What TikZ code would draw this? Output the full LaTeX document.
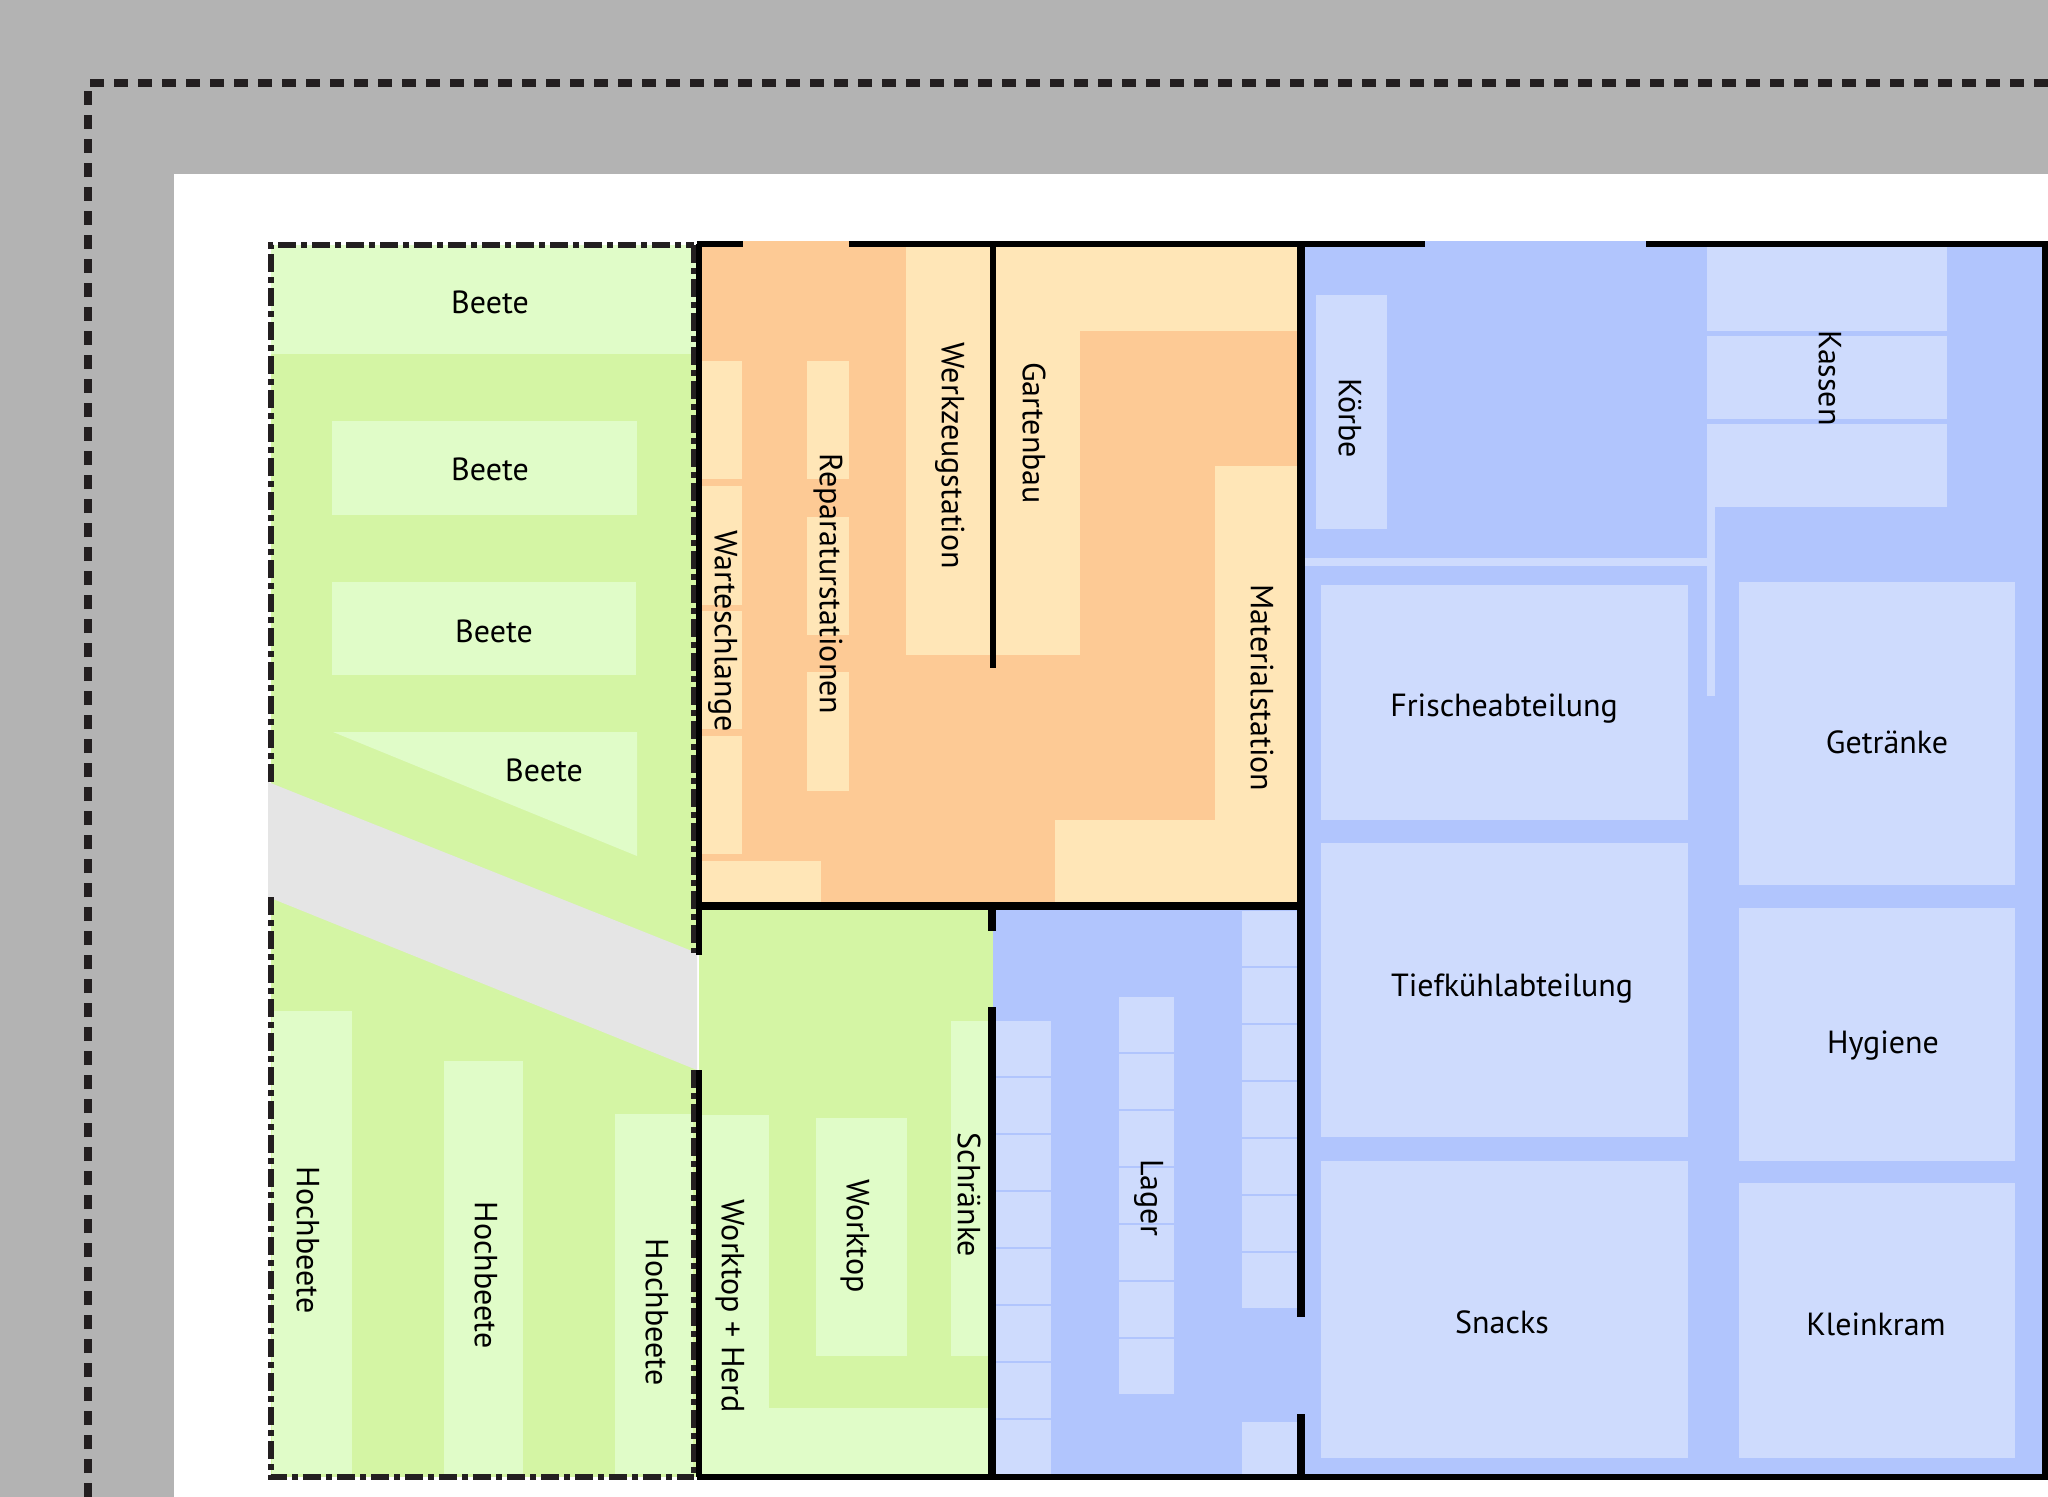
\documentclass[tikz,border=0pt]{standalone}
\usepackage{fontspec}
\setmainfont{PT Sans}
\definecolor{bggray}{HTML}{B3B3B3}
\definecolor{pathgray}{HTML}{E5E5E5}
\definecolor{gdark}{HTML}{D4F5A4}
\definecolor{glight}{HTML}{E0FCC8}
\definecolor{odark}{HTML}{FDCA95}
\definecolor{olight}{HTML}{FFE6B7}
\definecolor{bdark}{HTML}{B1C5FD}
\definecolor{blight}{HTML}{CEDBFD}
\definecolor{ink}{HTML}{231F20}
\begin{document}
\begin{tikzpicture}[x=0.5pt,y=-0.5pt,
  wall/.style={line width=3pt,black},
  thickwall/.style={line width=3.8pt,black},
  border/.style={line width=3.2pt,ink,dash pattern=on 9pt off 2.5pt on 3pt off 2.5pt},
  plot/.style={line width=4pt,ink,dash pattern=on 7pt off 5pt},
  lbl/.style={font=\fontsize{16}{18}\selectfont,inner sep=0pt,text height=11.2pt,text depth=0pt},
  vlbl/.style={lbl,rotate=-90}]
\useasboundingbox (0,0) rectangle (2048,1497);
% surroundings
\fill[bggray] (0,0) rectangle (2048,1497);
\fill[white] (174,174) rectangle (2048,1497);
\draw[plot] (88,1497) -- (88,83) -- (2048,83);
% garden
\fill[gdark] (271,245) rectangle (697,1477);
\fill[glight] (271,245) rectangle (697,354);
\fill[glight] (332,421) rectangle (637,515);
\fill[glight] (332,582) rectangle (636,675);
\fill[glight] (333,732) -- (637,732) -- (637,856) -- cycle;
\fill[glight] (272,1011) rectangle (352,1474);
\fill[glight] (444,1061) rectangle (523,1474);
\fill[glight] (615,1114) rectangle (693,1474);
\fill[pathgray] (268,782) -- (697,953) -- (697,1070) -- (268,897) -- cycle;
% workshop (orange)
\fill[odark] (699,241) rectangle (1301,906);
\fill[olight] (906,247) rectangle (1080,655);
\fill[olight] (1080,247) rectangle (1297,331);
\fill[olight] (1215,466) rectangle (1297,820);
\fill[olight] (1055,820) rectangle (1297,903);
\foreach \a/\b in {361/479,486/605,611/729,736/854}
  \fill[olight] (701,\a) rectangle (742,\b);
\fill[olight] (701,861) rectangle (821,903);
\foreach \a/\b in {361/479,517/635,672/791}
  \fill[olight] (807,\a) rectangle (849,\b);
% kitchen
\fill[gdark] (699,906) rectangle (993,1477);
\fill[glight] (702,1115) rectangle (769,1475);
\fill[glight] (769,1408) rectangle (990,1475);
\fill[glight] (816,1118) rectangle (907,1356);
\fill[glight] (951,1021) rectangle (990,1356);
% storage
\fill[bdark] (993,906) rectangle (1301,1477);
\foreach \k in {0,...,7}
  \fill[blight] (996,{1021+57*\k}) rectangle (1051,{1076+57*\k});
\foreach \k in {0,...,6}
  \fill[blight] (1119,{997+57*\k}) rectangle (1174,{1052+57*\k});
\foreach \k in {0,...,6}
  \fill[blight] (1242,{911+57*\k}) rectangle (1297,{966+57*\k});
\fill[blight] (1242,1422) rectangle (1297,1477);
% shop
\fill[bdark] (1301,241) rectangle (2045,1477);
\fill[blight] (1316,295) rectangle (1387,529);
\fill[blight] (1707,247) rectangle (1947,331);
\fill[blight] (1707,336) rectangle (1947,419);
\fill[blight] (1707,424) rectangle (1947,507);
\fill[blight] (1305,558) rectangle (1707,566);
\fill[blight] (1707,507) rectangle (1715,696);
\fill[blight] (1321,585) rectangle (1688,820);
\fill[blight] (1321,843) rectangle (1688,1137);
\fill[blight] (1321,1161) rectangle (1688,1458);
\fill[blight] (1739,582) rectangle (2015,885);
\fill[blight] (1739,908) rectangle (2015,1161);
\fill[blight] (1739,1183) rectangle (2015,1458);
% garden border (dash-dot)
\draw[border] (271,782) -- (271,245) -- (694,245);
\draw[border] (271,897) -- (271,1477) -- (694,1477);
\draw[border] (694,245) -- (694,953);
\draw[border] (694,1070) -- (694,1477);
% walls
\draw[wall] (697,244) -- (743,244);
\draw[wall] (849,244) -- (1425,244);
\draw[wall] (1646,244) -- (2045,244) -- (2045,1477) -- (697,1477);
\draw[wall] (699,244) -- (699,955);
\draw[wall] (699,1070) -- (699,1477);
\draw[thickwall] (697,906) -- (1303,906);
\draw[line width=2.6pt] (993,244) -- (993,668);
\draw[thickwall] (992,906) -- (992,931);
\draw[thickwall] (992,1007) -- (992,1477);
\draw[line width=4pt] (1301,244) -- (1301,1317);
\draw[line width=4pt] (1301,1414) -- (1301,1477);
% labels
\node[lbl] (beeteA) at (490,302) {Beete};
\node[lbl] (beeteB) at (490,469) {Beete};
\node[lbl] (beeteC) at (494,631) {Beete};
\node[lbl] (beeteD) at (544,770) {Beete};
\node[vlbl] (hbA) at (308,1240) {Hochbeete};
\node[vlbl] (hbB) at (486,1275) {Hochbeete};
\node[vlbl] (hbC) at (657,1312) {Hochbeete};
\node[vlbl] (herd) at (733,1306) {Worktop + Herd};
\node[vlbl] (worktop) at (858,1236) {Worktop};
\node[vlbl] (schraenke) at (969,1195) {Schränke};
\node[vlbl] (lager) at (1152,1198) {Lager};
\node[vlbl] (warte) at (726,631) {Warteschlange};
\node[vlbl] (repar) at (831,584) {Reparaturstationen};
\node[vlbl] (werkz) at (953,456) {Werkzeugstation};
\node[vlbl] (garten) at (1034,433) {Gartenbau};
\node[vlbl] (material) at (1262,688) {Materialstation};
\node[vlbl] (koerbe) at (1350,418) {Körbe};
\node[vlbl] (kassen) at (1830,378) {Kassen};
\node[lbl] (frische) at (1504,705) {Frischeabteilung};
\node[lbl] (getraenke) at (1887,742) {Getränke};
\node[lbl] (tiefkuehl) at (1512,985) {Tiefkühlabteilung};
\node[lbl] (hygiene) at (1883,1042) {Hygiene};
\node[lbl] (snacks) at (1502,1322) {Snacks};
\node[lbl] (kleinkram) at (1876,1324) {Kleinkram};
\end{tikzpicture}
\end{document}
